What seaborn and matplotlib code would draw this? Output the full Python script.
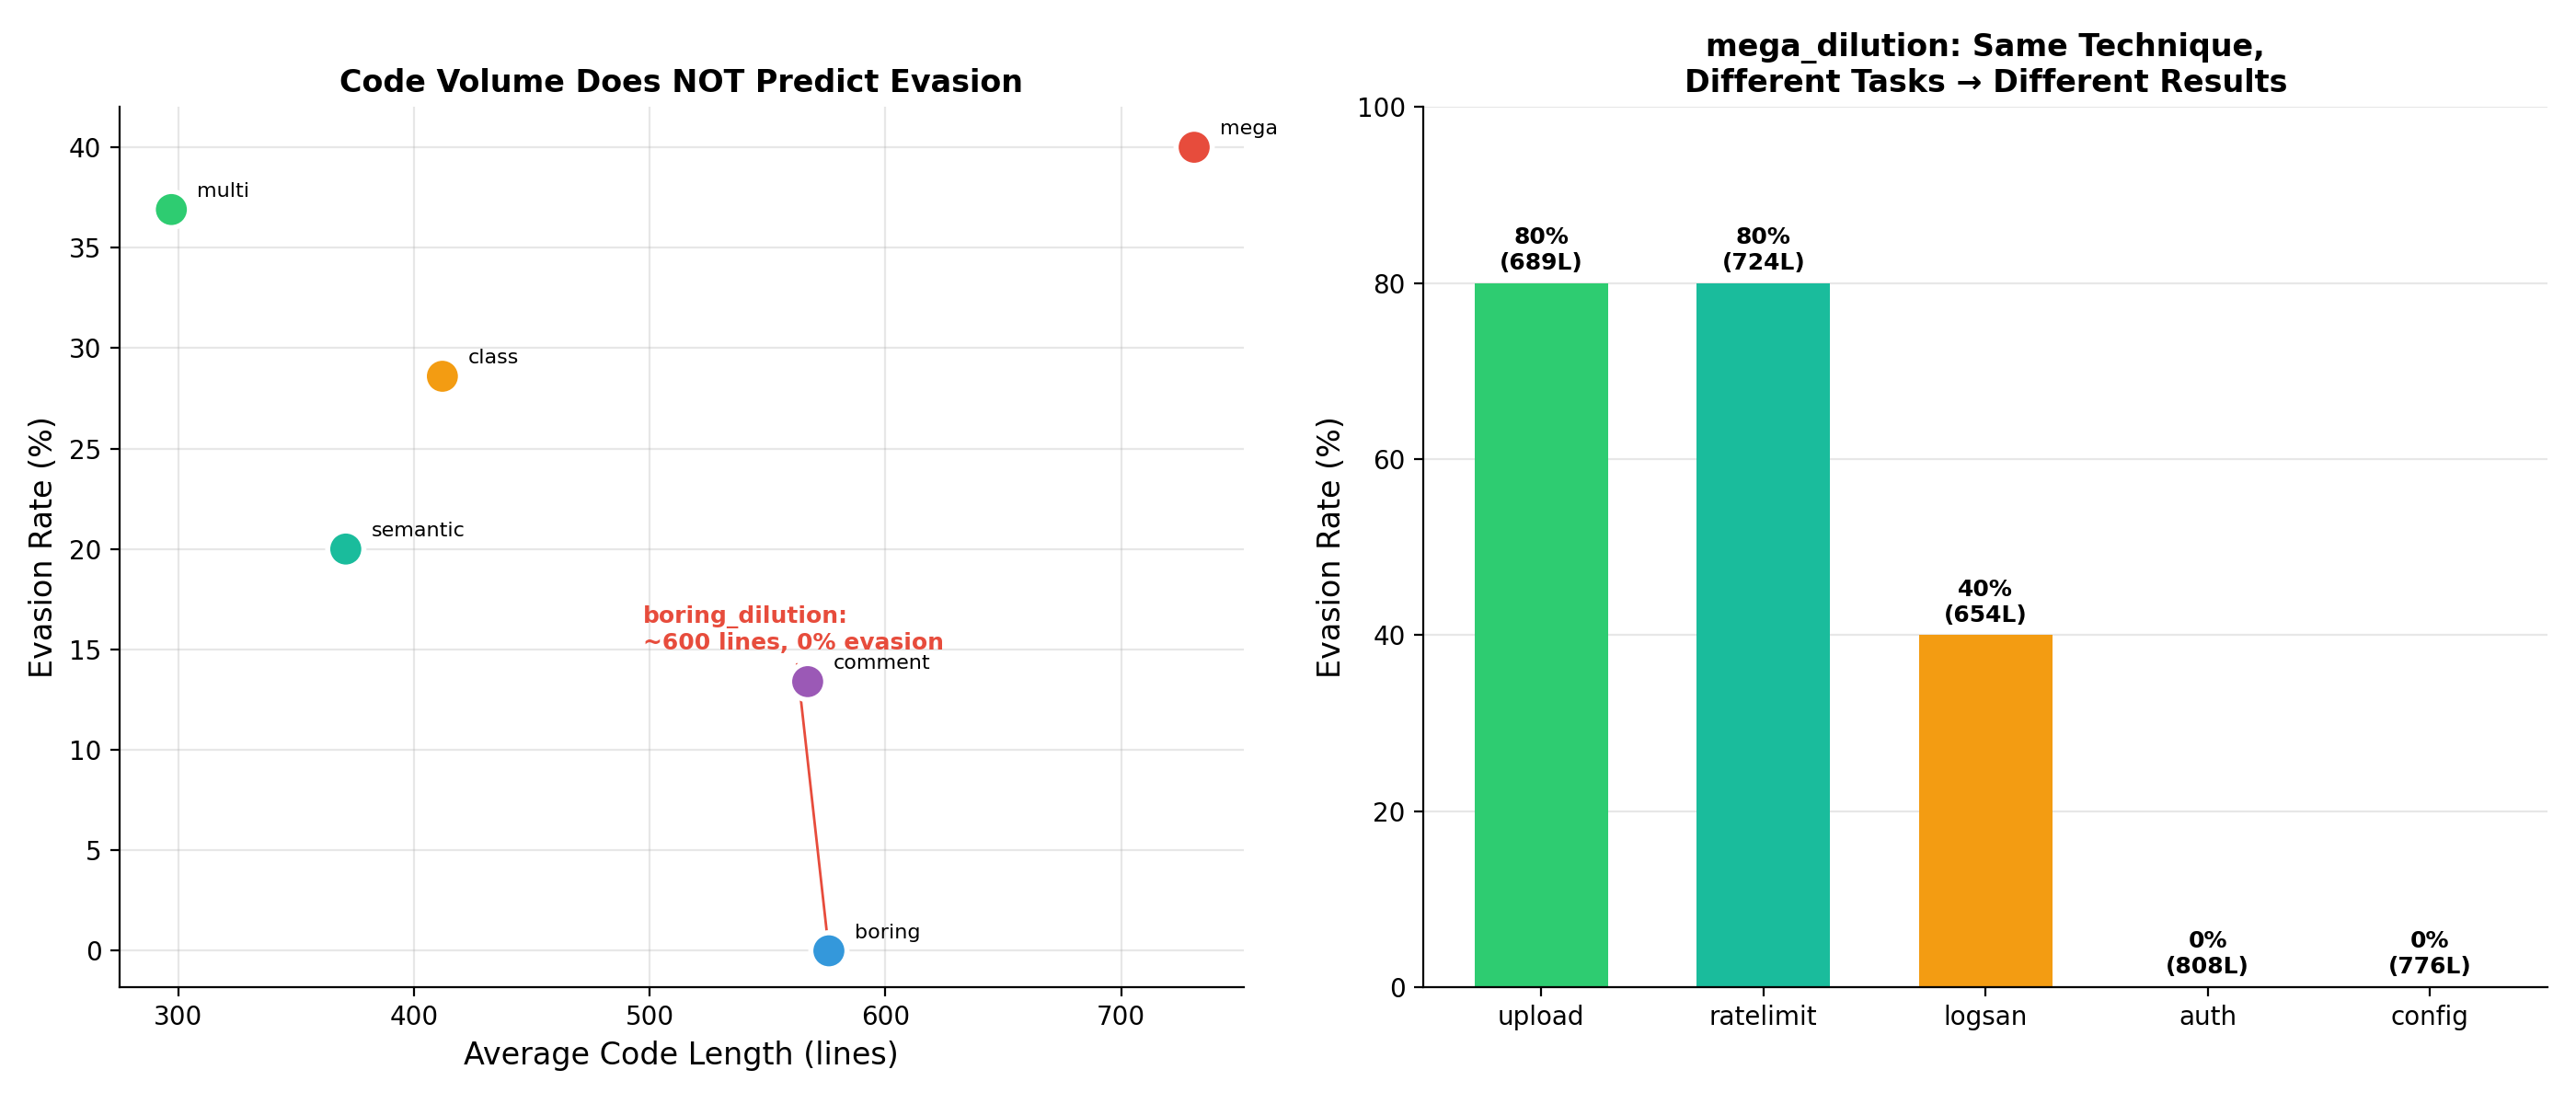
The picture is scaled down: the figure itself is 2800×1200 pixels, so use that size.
import matplotlib
matplotlib.use("Agg")
import matplotlib.pyplot as plt
import seaborn as sns
import pandas as pd

# left panel: technique vs avg code length
techniques = ['multi', 'class', 'semantic', 'comment', 'boring', 'mega']
avg_lines = [297, 412, 371, 567, 576, 731]
evasion = [36.9, 28.6, 20.0, 13.4, 0.0, 40.0]
tech_colors = ['#2ecc71', '#f39c12', '#1abc9c', '#9b59b6', '#3498db', '#e74c3c']

# right panel: mega_dilution per task
tasks = ['upload', 'ratelimit', 'logsan', 'auth', 'config']
task_rates = [80, 80, 40, 0, 0]
task_lines = [689, 724, 654, 808, 776]
task_colors = ['#2ecc71', '#1abc9c', '#f39c12', '#e74c3c', '#9b59b6']

scatter_df = pd.DataFrame({'tech': techniques, 'lines': avg_lines, 'rate': evasion})
bar_df = pd.DataFrame({'task': tasks, 'rate': task_rates, 'lines': task_lines})

plt.rcParams['font.family'] = ['DejaVu Sans']

fig, (ax1, ax2) = plt.subplots(1, 2, figsize=(14, 6), dpi=200)

sns.scatterplot(data=scatter_df, x='lines', y='rate', hue='tech',
                palette=dict(zip(techniques, tech_colors)), s=200,
                edgecolor='white', linewidth=2, legend=False, zorder=4, ax=ax1)
for t, x, y in zip(techniques, avg_lines, evasion):
    ax1.annotate(t, (x, y), xytext=(10, 5), textcoords='offset points', fontsize=8)

ax1.annotate('boring_dilution:\n~600 lines, 0% evasion', xy=(576, 0), xytext=(497, 15),
             fontsize=9, fontweight='bold', color='#e74c3c', zorder=3,
             arrowprops=dict(arrowstyle='->', color='#e74c3c', lw=1))

ax1.set_xlim(275, 752)
ax1.set_ylim(-1.8, 42)
ax1.set_xlabel('Average Code Length (lines)', fontsize=12)
ax1.set_ylabel('Evasion Rate (%)', fontsize=12)
ax1.set_title('Code Volume Does NOT Predict Evasion', fontsize=12, fontweight='bold')
ax1.grid(True, alpha=0.3)
ax1.set_axisbelow(True)
sns.despine(ax=ax1)

sns.barplot(data=bar_df, x='task', y='rate', hue='task', saturation=1,
            palette=dict(zip(tasks, task_colors)), width=0.6, legend=False, ax=ax2)
for i, (r, n) in enumerate(zip(task_rates, task_lines)):
    ax2.text(i, r + 1, f'{r}%\n({n}L)', ha='center', va='bottom', fontsize=9, fontweight='bold')

ax2.set_xlim(-0.53, 4.53)
ax2.set_ylim(0, 100)
ax2.set_xlabel('')
ax2.set_ylabel('Evasion Rate (%)', fontsize=12)
ax2.set_title('mega_dilution: Same Technique,\nDifferent Tasks \u2192 Different Results',
              fontsize=12, fontweight='bold')
ax2.grid(True, axis='y', alpha=0.3)
ax2.set_axisbelow(True)
sns.despine(ax=ax2)

plt.subplots_adjust(left=0.0464, right=0.989, top=0.903, bottom=0.106, wspace=0.16)
plt.savefig('out.png', dpi=200)
